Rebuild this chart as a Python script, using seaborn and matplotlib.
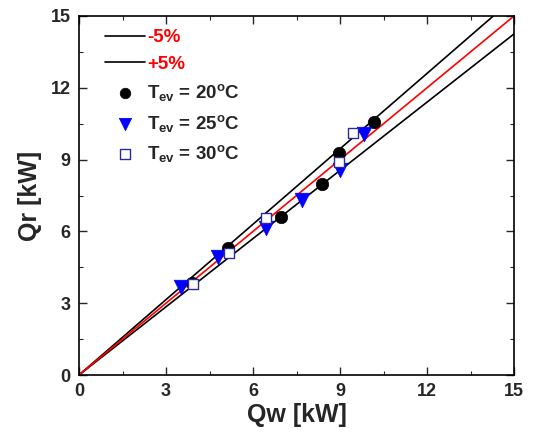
import matplotlib
matplotlib.use("Agg")
import matplotlib.pyplot as plt
import seaborn as sns
import numpy as np
import pandas as pd

# Data
qw_20 = [3.9, 5.15, 6.97, 8.38, 8.97, 10.17]
qr_20 = [3.85, 5.3, 6.6, 7.98, 9.28, 10.57]
qw_25 = [3.5, 4.8, 6.45, 7.69, 9.0, 9.83]
qr_25 = [3.68, 4.93, 6.14, 7.31, 8.57, 10.07]
qw_30 = [3.93, 5.17, 6.45, 8.97, 9.45]
qr_30 = [3.8, 5.1, 6.56, 8.9, 10.11]
line_x = [0, 15]
factor_minus = 0.95
factor_plus = 1.05
ticks = [0, 3, 6, 9, 12, 15]

sns.set_theme(style="ticks")
plt.rcParams['font.family'] = ['Liberation Sans', 'DejaVu Sans']
plt.rcParams['font.weight'] = 'bold'
plt.rcParams['mathtext.fontset'] = 'custom'
plt.rcParams['mathtext.bf'] = 'Liberation Sans:bold'
plt.rcParams['mathtext.rm'] = 'Liberation Sans:bold'
plt.rcParams['mathtext.it'] = 'Liberation Sans:bold'
plt.rcParams['mathtext.default'] = 'bf'

fig = plt.figure(figsize=(5.34, 4.41), dpi=100)
ax = fig.add_axes([79/534, 1-375/441, (514-79)/534, (375-16)/441])

lx = np.array(line_x, dtype=float)
sns.lineplot(x=lx, y=lx * factor_minus, color='black', lw=1.2, ax=ax, label='-5%')
sns.lineplot(x=lx, y=lx * factor_plus, color='black', lw=1.2, ax=ax, label='+5%')
sns.lineplot(x=lx, y=lx, color='red', lw=1.2, ax=ax)

sns.scatterplot(x=qw_20, y=qr_20, marker='o', s=80, color='black', edgecolor='black',
                linewidth=0.5, ax=ax, label=r'T$_{ev}$ = 20$^{o}$C', zorder=3)
sns.scatterplot(x=qw_25, y=qr_25, marker='v', s=110, color='blue', edgecolor='blue',
                linewidth=0.5, ax=ax, label=r'T$_{ev}$ = 25$^{o}$C', zorder=3)
sns.scatterplot(x=qw_30, y=qr_30, marker='s', s=60, facecolor='white', edgecolor='#2b2b9a',
                linewidth=1.0, ax=ax, label=r'T$_{ev}$ = 30$^{o}$C', zorder=4)

ax.set_xlim(0, 15)
ax.set_ylim(0, 15)
ax.set_xticks(ticks)
ax.set_yticks(ticks)
ax.set_xticks(np.arange(0, 15.1, 1.5), minor=True)
ax.set_yticks(np.arange(0, 15.1, 1.5), minor=True)
ax.tick_params(which='major', direction='in', length=6, width=1, labelsize=13,
               top=True, right=True, pad=6)
ax.tick_params(which='minor', direction='in', length=3, width=0.8, top=True, right=True)
for lab in ax.get_xticklabels() + ax.get_yticklabels():
    lab.set_fontweight('bold')
for sp in ax.spines.values():
    sp.set_linewidth(1.2)
    sp.set_color('black')

ax.set_xlabel('Qw [kW]', fontsize=18, fontweight='bold', labelpad=2)
ax.set_ylabel('Qr [kW]', fontsize=18, fontweight='bold', labelpad=6)

leg = ax.legend(loc='upper left', bbox_to_anchor=(0.03, 1.0), frameon=False, fontsize=13.5,
                handlelength=2.1, labelspacing=0.5, borderaxespad=0.3, handletextpad=0.15,
                markerscale=0.85)
for t in leg.get_texts()[:2]:
    t.set_color('red')
for t in leg.get_texts():
    t.set_fontweight('bold')

fig.savefig('out.png', dpi=100)
